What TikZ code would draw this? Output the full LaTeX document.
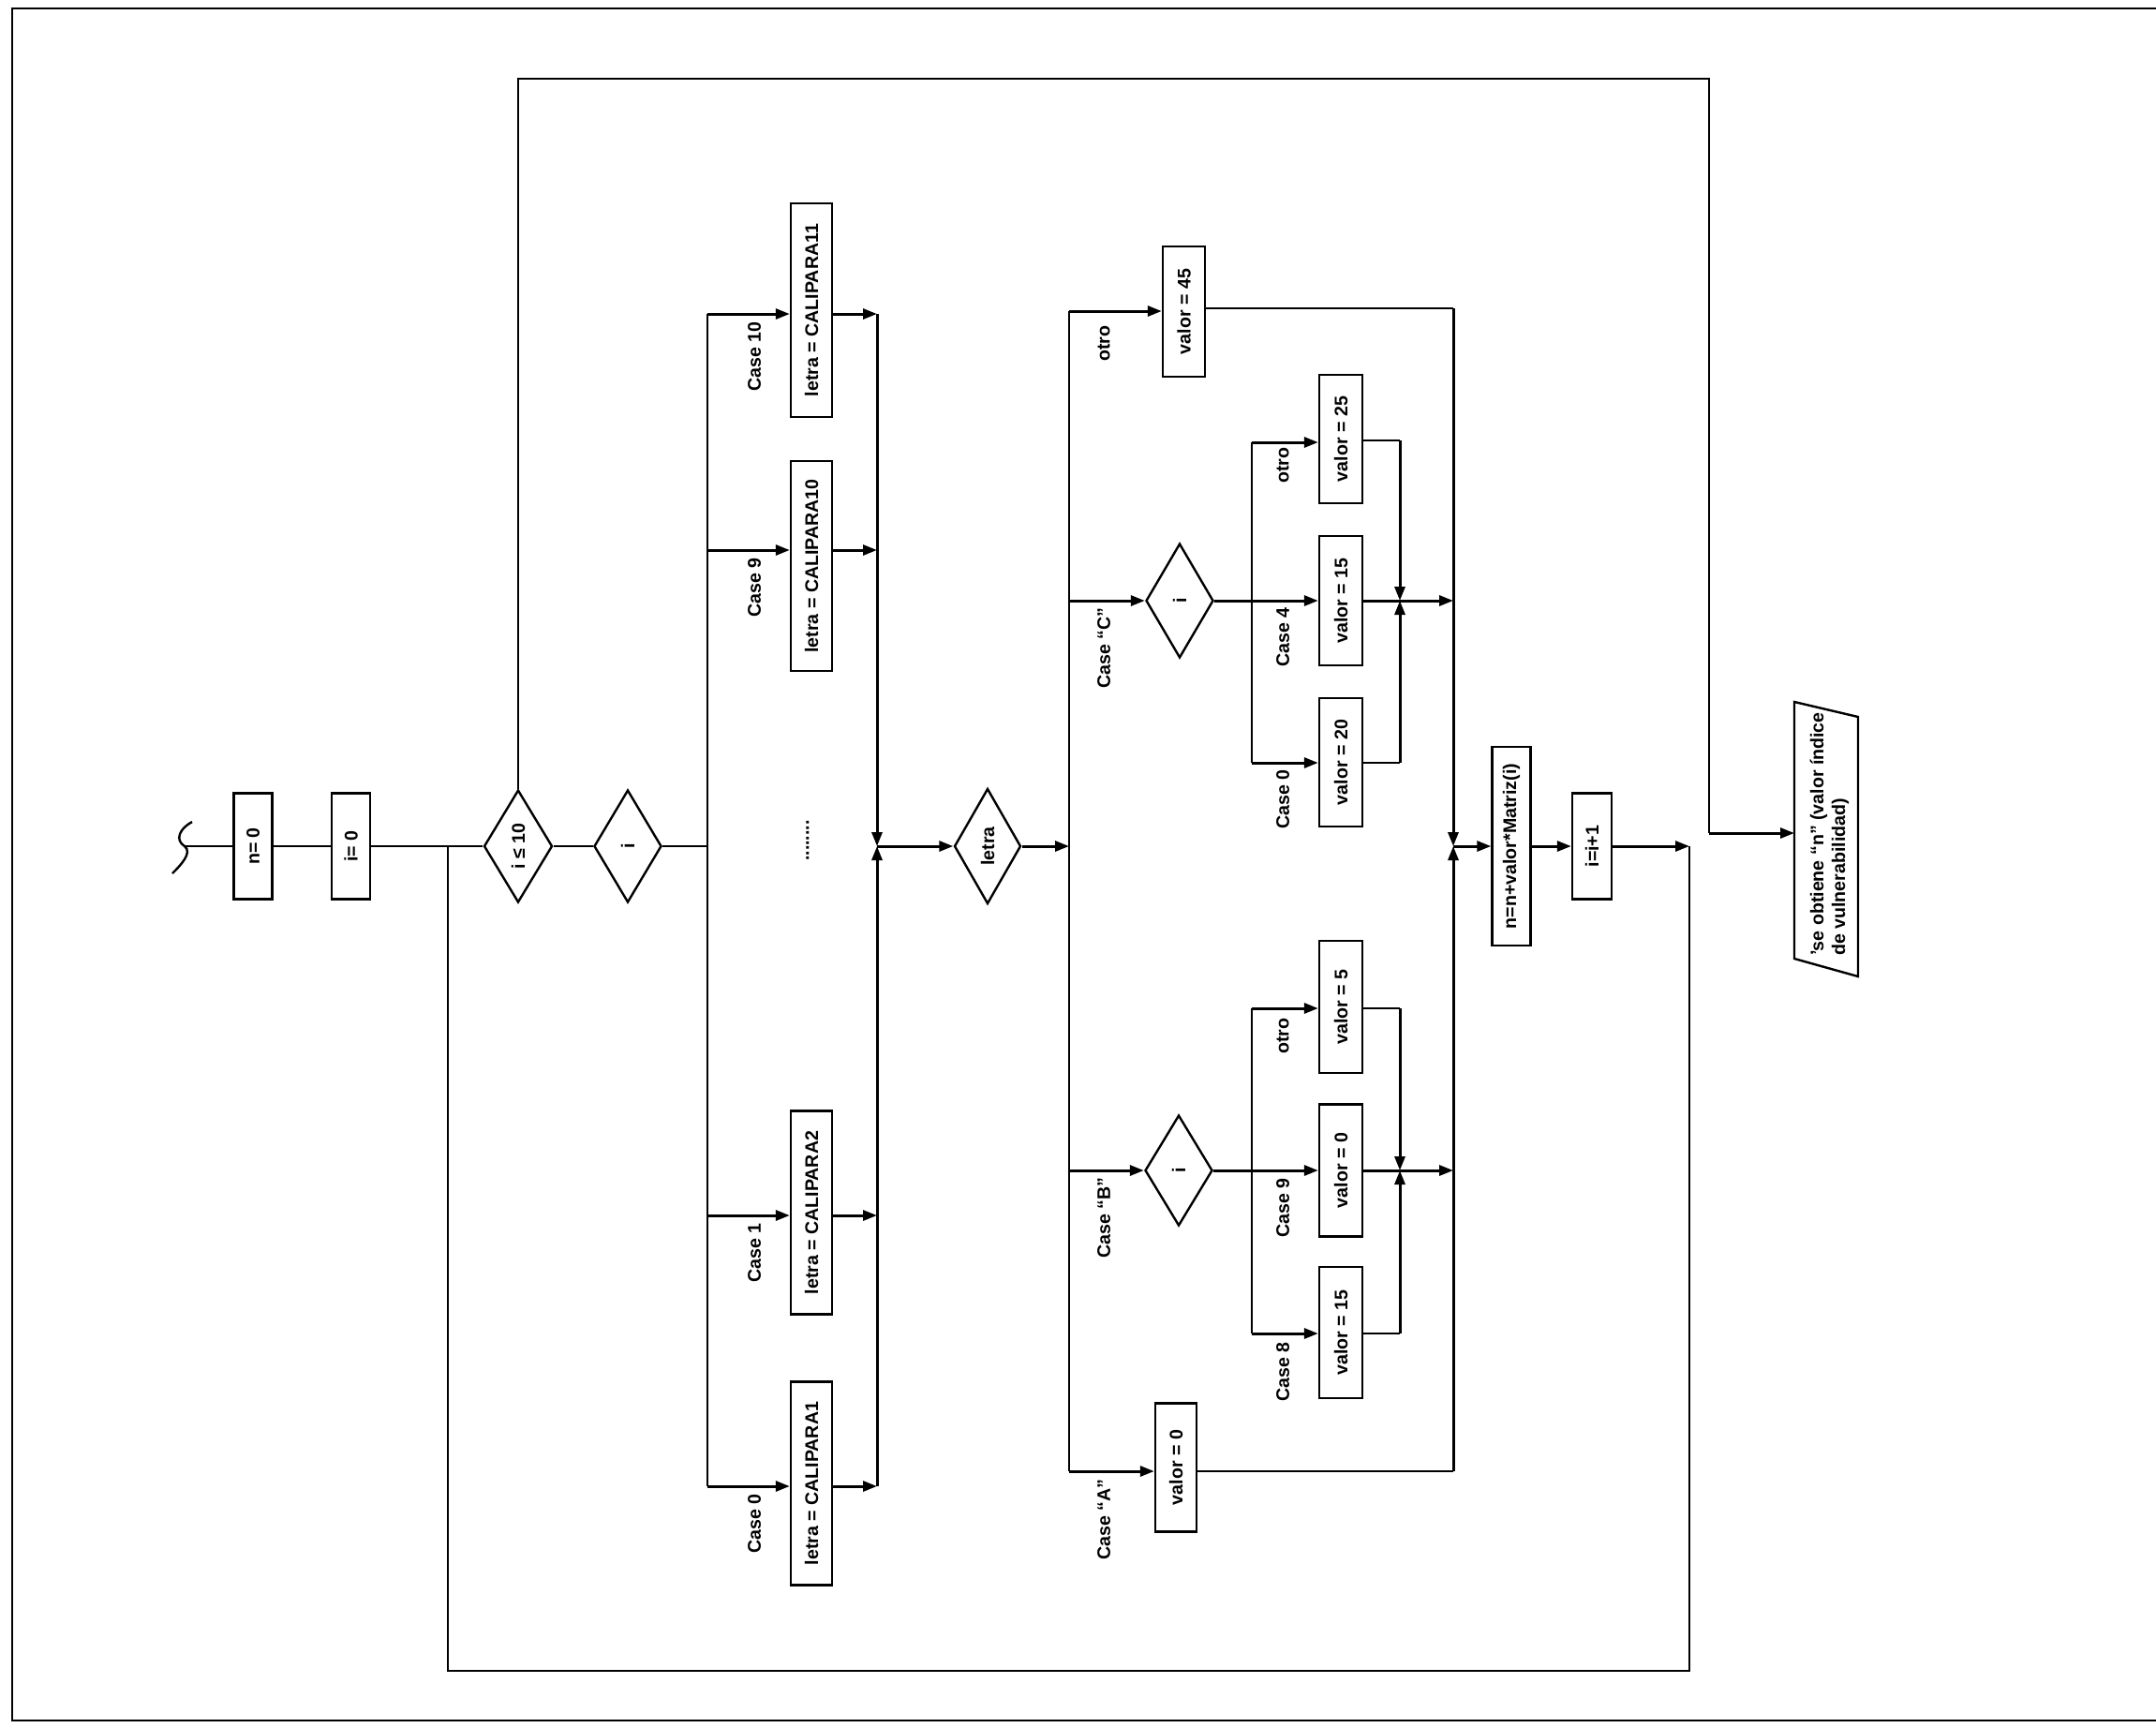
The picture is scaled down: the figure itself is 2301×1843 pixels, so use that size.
\documentclass[tikz,border=0pt]{standalone}
\usepackage{fontspec}
\setmainfont{Liberation Sans}
\usepackage{graphicx}
\usetikzlibrary{arrows.meta,shapes.geometric}
\newcommand\rtx[1]{\rotatebox{90}{#1}}
\begin{document}
\begin{tikzpicture}[x=0.5pt,y=-0.5pt,
  every node/.style={font=\fontsize{9.8}{11.5}\selectfont\bfseries, inner sep=0pt},
  bx/.style 2 args={draw, rectangle, line width=1.2pt, minimum width=#1*0.5pt, minimum height=#2*0.5pt},
  dm/.style 2 args={draw, diamond, line width=1.2pt, minimum width=#1*0.5pt, minimum height=#2*0.5pt},
  ln/.style={line width=1.2pt},
  arr/.style={line width=1.5pt, -{Triangle[length=7.5pt,width=5.5pt]}},
  lbl/.style={anchor=north}]
\useasboundingbox (0,0) rectangle (2301,1843);
\fill[white] (0,0) rectangle (2301,1843);
% frame
\draw[line width=1.4pt] (2301,9) -- (13,9) -- (13,1836) -- (2301,1836);

% ---------- main line nodes
\coordinate (sq) at (197,903);
\draw[ln] (205,877) .. controls (192,884) and (186,896) .. (197,903) .. controls (206,910) and (192,924) .. (184,932);
\node[bx={41}{113}] (n0) at (270,903) {\rtx{n= 0}};
\node[bx={41}{113}] (i0) at (374.5,903) {\rtx{i= 0}};
\node[dm={73}{120}] (d1) at (553,903) {\rtx{i ≤ 10}};
\node[dm={72}{120}] (d2) at (670,903) {\rtx{i}};
\coordinate (jA) at (478,903);
\coordinate (jB) at (755,903);

% CALIPARA boxes
\node[bx={44}{228}] (c11) at (866,331) {\rtx{letra = CALIPARA11}};
\node[bx={44}{224}] (c10) at (866,604) {\rtx{letra = CALIPARA10}};
\node[bx={44}{217}] (c2) at (866,1294) {\rtx{letra = CALIPARA2}};
\node[bx={44}{217}] (c1) at (866,1583) {\rtx{letra = CALIPARA1}};
\node (dots) at (862,897) {\rtx{........}};

\coordinate (r10) at (755,335);
\coordinate (r9) at (755,587);
\coordinate (r1) at (755,1297);
\coordinate (r0) at (755,1586);
\coordinate (k10) at (936,335);
\coordinate (k9) at (936,587);
\coordinate (k1) at (936,1297);
\coordinate (k0) at (936,1586);
\coordinate (kM) at (936,903);

\node[lbl] at (805,343) {\rtx{Case 10}};
\node[lbl] at (805,595) {\rtx{Case 9}};
\node[lbl] at (805,1305) {\rtx{Case 1}};
\node[lbl] at (805,1594) {\rtx{Case 0}};

% letra diamond and its cases
\node[dm={71}{123}] (dl) at (1054,903) {\rtx{letra}};
\coordinate (jC) at (1141,903);
\coordinate (lo) at (1141,332);
\coordinate (lC) at (1141,641);
\coordinate (lB) at (1141,1249);
\coordinate (lA) at (1141,1570);

\node[bx={45}{139}] (v45) at (1263.5,332.5) {\rtx{valor = 45}};
\node[dm={72}{122}] (dC) at (1259,641) {\rtx{i}};
\node[dm={72}{118}] (dB) at (1258,1249) {\rtx{i}};
\node[bx={44}{137}] (vA) at (1255,1566) {\rtx{valor = 0}};

\node[lbl] at (1178,347) {\rtx{otro}};
\node[lbl] at (1178,648) {\rtx{Case “C”}};
\node[lbl] at (1178,1256) {\rtx{Case “B”}};
\node[lbl] at (1178,1578) {\rtx{Case “A”}};

% sub cases C
\node[bx={46}{137}] (v25) at (1431,468.5) {\rtx{valor = 25}};
\node[bx={46}{138}] (v15c) at (1431,641) {\rtx{valor = 15}};
\node[bx={46}{137}] (v20) at (1431,813.5) {\rtx{valor = 20}};
\coordinate (sC0) at (1336,472);
\coordinate (sC2) at (1336,814);
\coordinate (tC0) at (1494,470);
\coordinate (tCm) at (1494,641);
\coordinate (tC2) at (1494,814);
\node[lbl] at (1369,477) {\rtx{otro}};
\node[lbl] at (1369,648) {\rtx{Case 4}};
\node[lbl] at (1369,821) {\rtx{Case 0}};

% sub cases B
\node[bx={46}{141}] (v5) at (1431,1074.5) {\rtx{valor = 5}};
\node[bx={46}{141}] (v0b) at (1431,1249) {\rtx{valor = 0}};
\node[bx={46}{140}] (v15b) at (1431,1422) {\rtx{valor = 15}};
\coordinate (sB0) at (1336,1076);
\coordinate (sB2) at (1336,1423);
\coordinate (tB0) at (1494,1076);
\coordinate (tBm) at (1494,1249);
\coordinate (tB2) at (1494,1423);
\node[lbl] at (1369,1086) {\rtx{otro}};
\node[lbl] at (1369,1257) {\rtx{Case 9}};
\node[lbl] at (1369,1432) {\rtx{Case 8}};

% collector
\coordinate (m45) at (1551,329);
\coordinate (mC) at (1551,641);
\coordinate (mB) at (1551,1249);
\coordinate (mA) at (1551,1570);
\coordinate (mM) at (1551,903);

\node[bx={41}{212}] (nm) at (1613,903) {\rtx{n=n+valor*Matriz(i)}};
\node[bx={42}{113}] (ii) at (1699,903) {\rtx{i=i+1}};
\coordinate (lp1) at (1803,903);
\coordinate (lp2) at (1803,1783);
\coordinate (lp3) at (478,1783);
\coordinate (tp1) at (553,84);
\coordinate (tp2) at (1824,84);
\coordinate (tp3) at (1824,889);
\coordinate (pin) at (1915,889);

% output parallelogram
\draw[ln] (1915,749) -- (1983,765) -- (1983,1042) -- (1915,1023) -- cycle;
\node (outp) at (1953,890) {\rtx{\begin{tabular}{@{}l@{}}'se obtiene “n” (valor índice\\de vulnerabilidad)\end{tabular}}};

% ---------- connectors
\draw[ln] (sq) -- (n0);
\draw[ln] (n0) -- (i0);
\draw[ln] (i0) -- (d1);
\draw[ln] (d1) -- (d2);
\draw[ln] (d2) -- (jB);
\draw[ln] (r10) -- (r0);
\draw[arr] (r10) -- (c11.west |- r10);
\draw[arr] (r9) -- (c10.west |- r9);
\draw[arr] (r1) -- (c2.west |- r1);
\draw[arr] (r0) -- (c1.west |- r0);
\draw[arr] (c11.east |- k10) -- (k10);
\draw[arr] (c10.east |- k9) -- (k9);
\draw[arr] (c2.east |- k1) -- (k1);
\draw[arr] (c1.east |- k0) -- (k0);
\draw[arr] (k10) -- (kM);
\draw[arr] (k0) -- (kM);
\draw[arr] (kM) -- (dl);
\draw[arr] (dl) -- (jC);
\draw[ln] (lo) -- (lA);
\draw[arr] (lo) -- (v45.west |- lo);
\draw[arr] (lC) -- (dC);
\draw[arr] (lB) -- (dB);
\draw[arr] (lA) -- (vA.west |- lA);

\draw[arr] (dC) -- (v15c);
\draw[ln] (sC0) -- (sC2);
\draw[arr] (sC0) -- (v25.west |- sC0);
\draw[arr] (sC2) -- (v20.west |- sC2);
\draw[ln] (v25.east |- tC0) -- (tC0);
\draw[ln] (v20.east |- tC2) -- (tC2);
\draw[arr] (tC0) -- (tCm);
\draw[arr] (tC2) -- (tCm);
\draw[arr] (v15c) -- (mC);

\draw[arr] (dB) -- (v0b);
\draw[ln] (sB0) -- (sB2);
\draw[arr] (sB0) -- (v5.west |- sB0);
\draw[arr] (sB2) -- (v15b.west |- sB2);
\draw[ln] (v5.east |- tB0) -- (tB0);
\draw[ln] (v15b.east |- tB2) -- (tB2);
\draw[arr] (tB0) -- (tBm);
\draw[arr] (tB2) -- (tBm);
\draw[arr] (v0b) -- (mB);

\draw[ln] (v45.east |- m45) -- (m45);
\draw[ln] (vA.east |- mA) -- (mA);
\draw[arr] (m45) -- (mM);
\draw[arr] (mA) -- (mM);
\draw[arr] (mM) -- (nm);
\draw[arr] (nm) -- (ii);
\draw[arr] (ii) -- (lp1);
\draw[ln] (lp1) -- (lp2) -- (lp3) -- (jA);
\draw[ln] (d1.north) -- (tp1) -- (tp2) -- (tp3);
\draw[arr] (tp3) -- (pin);
\end{tikzpicture}
\end{document}
